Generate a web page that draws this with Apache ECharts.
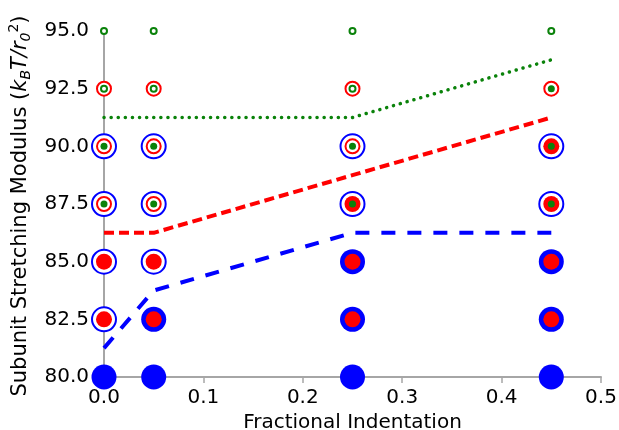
<!DOCTYPE html>
<html>
<head>
<meta charset="utf-8">
<script src="https://cdn.jsdelivr.net/npm/echarts@6/dist/echarts.min.js"></script>
<style>
  html, body { margin: 0; padding: 0; background: #fff; }
  #chart { width: 619px; height: 430px; }
</style>
</head>
<body>
<div id="chart"></div>
<script>
// ---- Data ----
const xTicks = [0, 0.1, 0.2, 0.3, 0.4, 0.5];
const yTicks = [80, 82.5, 85, 87.5, 90, 92.5, 95];

const blueFilled  = [[0,80],[0.05,80],[0.05,82.5],[0.25,80],[0.25,82.5],[0.25,85],[0.45,80],[0.45,82.5],[0.45,85]];
const blueOpen    = [[0,82.5],[0,85],[0,87.5],[0,90],[0.05,85],[0.05,87.5],[0.05,90],[0.25,87.5],[0.25,90],[0.45,87.5],[0.45,90]];
const redFilled   = [[0,82.5],[0,85],[0.05,82.5],[0.05,85],[0.25,82.5],[0.25,85],[0.25,87.5],[0.45,82.5],[0.45,85],[0.45,87.5],[0.45,90]];
const redOpen     = [[0,87.5],[0,90],[0,92.5],[0.05,87.5],[0.05,90],[0.05,92.5],[0.25,90],[0.25,92.5],[0.45,92.5]];
const greenFilled = [[0,87.5],[0,90],[0.05,87.5],[0.05,90],[0.25,87.5],[0.25,90],[0.45,87.5],[0.45,90],[0.45,92.5]];
const greenOpen   = [[0,92.5],[0,95],[0.05,92.5],[0.05,95],[0.25,92.5],[0.25,95],[0.45,95]];

const blueLine  = [[0,81.25],[0.05,83.75],[0.25,86.25],[0.45,86.25]];
const redLine   = [[0,86.25],[0.05,86.25],[0.25,88.75],[0.45,91.25]];
const greenLine = [[0,91.25],[0.05,91.25],[0.25,91.25],[0.45,93.75]];

const xTitle = 'Fractional Indentation';

// ---- Styles ----
const FONT = 'DejaVu Sans';
const BLUE = '#0000ff', RED = '#ff0000', GREEN = '#0a820a';
const AXIS = '#a6a6a6';
const FS = 20;
const YFS = 21;

function scatter(data, size, color, open, z) {
  return {
    type: 'scatter', data: data, symbol: 'circle', symbolSize: size, z: z,
    itemStyle: open
      ? { color: '#ffffff', borderColor: color, borderWidth: 2, opacity: 1 }
      : { color: color, opacity: 1 },
    emphasis: { disabled: true }, silent: true
  };
}
function line(data, color, dash, width, cap) {
  return {
    type: 'line', data: data, symbol: 'none', showSymbol: false, z: 10, silent: true,
    lineStyle: { color: color, width: width, type: dash, cap: cap || 'butt', opacity: 1 }
  };
}

const chart = echarts.init(document.getElementById('chart'), null, { renderer: 'canvas' });
chart.setOption({
  animation: false,
  backgroundColor: '#ffffff',
  grid: { left: 104, right: 18, top: 31, bottom: 53, containLabel: false, outerBoundsMode: 'none' },
  xAxis: {
    type: 'value', min: xTicks[0], max: xTicks[xTicks.length - 1], interval: 0.1,
    axisLine: { show: true, lineStyle: { color: AXIS, width: 2 } },
    axisTick: { show: true, length: 6, lineStyle: { color: AXIS, width: 1.5 } },
    splitLine: { show: false },
    axisLabel: { color: '#000', fontFamily: FONT, fontSize: FS, margin: 11,
      formatter: v => v.toFixed(1) },
    name: xTitle, nameLocation: 'middle', nameGap: 32,
    nameTextStyle: { color: '#000', fontFamily: FONT, fontSize: FS }
  },
  yAxis: {
    type: 'value', min: yTicks[0], max: yTicks[yTicks.length - 1], interval: 2.5,
    axisLine: { show: true, lineStyle: { color: AXIS, width: 2 } },
    axisTick: { show: true, length: 4, lineStyle: { color: AXIS, width: 1.5 } },
    splitLine: { show: false },
    axisLabel: { color: '#000', fontFamily: FONT, fontSize: FS, margin: 15,
      formatter: v => v.toFixed(1) },
    name: '{t|Subunit Stretching Modulus (}{i|k}{sub|B}{i|T/r}{sub|0}{sup|2}{t|)}',
    nameLocation: 'middle', nameGap: 58, nameRotate: 90,
    nameTextStyle: {
      color: '#000', fontFamily: FONT, fontSize: YFS, padding: [0, 4, 0, 0],
      rich: {
        t:   { color: '#000', fontFamily: FONT, fontSize: YFS, verticalAlign: 'middle' },
        i:   { color: '#000', fontFamily: FONT, fontSize: YFS, fontStyle: 'italic', verticalAlign: 'middle' },
        sub: { color: '#000', fontFamily: FONT, fontSize: 14, fontStyle: 'italic', verticalAlign: 'middle', padding: [12, 0, 0, 0] },
        sup: { color: '#000', fontFamily: FONT, fontSize: 14, verticalAlign: 'middle', padding: [0, 0, 12, 0] }
      }
    }
  },
  series: [
    scatter(blueFilled, 25, BLUE, false, 2),
    scatter(blueOpen, 24, BLUE, true, 2),
    scatter(redFilled, 16, RED, false, 3),
    scatter(redOpen, 14, RED, true, 3),
    scatter(greenFilled, 7, GREEN, false, 4),
    scatter(greenOpen, 6, GREEN, true, 4),
    line(blueLine, BLUE, [14, 12], 4),
    line(redLine, RED, [10, 5], 4),
    line(greenLine, GREEN, [0.1, 7], 3.5, 'round')
  ]
});
</script>
</body>
</html>
